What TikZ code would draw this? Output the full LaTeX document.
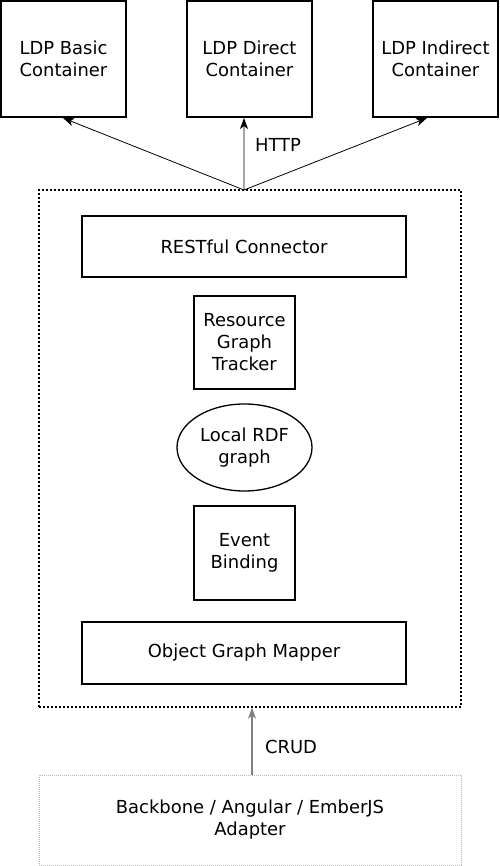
\documentclass[tikz,border=0pt]{standalone}
\usepackage{fontspec}
\setmainfont{DejaVu Sans}
\usetikzlibrary{arrows.meta,shapes.geometric}
\begin{document}
\begin{tikzpicture}[x=1bp,y=1bp,
        font=\fontsize{18}{22}\selectfont,
        box/.style={draw,line width=2bp,inner sep=0pt,align=center},
        thinbox/.style={draw,line width=1.3bp,inner sep=0pt,align=center},
        link/.style={-{Stealth[length=11bp,width=8bp,inset=3bp]},line width=0.8bp}]
    \useasboundingbox (0,0) rectangle (500,866);

    % LDP containers
    \foreach \name/\x/\kind in {basic/63.5/Basic, direct/249.5/Direct, indirect/435.5/Indirect}
        {
            \node[box, minimum width=125bp, minimum height=116bp] (\name) at (\x, 807){LDP \kind\\Container};
        }

    % client library
    \node[draw, dash pattern=on 2bp off 2bp, line width=1.3bp, minimum width=422bp, minimum height=517bp] (lib) at (250, 417.5){};
    \node[box, minimum width=324bp, minimum height=61bp] (rest) at (244, 619.5){RESTful Connector};
    \node[thinbox, minimum width=101bp, minimum height=93bp] (tracker) at (244.5, 523.5){Resource\\Graph\\Tracker};
    \node[thinbox, ellipse, minimum width=135bp, minimum height=87bp] (rdf) at (244.5, 418.5){Local RDF\\graph};
    \node[thinbox, minimum width=101bp, minimum height=94bp] (event) at (244.5, 313){Event\\Binding};
    \node[box, minimum width=324bp, minimum height=62bp] (mapper) at (244, 213){Object Graph Mapper};

    % framework adapter
    \node[draw=gray!55, dash pattern=on 1bp off 1bp, line width=0.8bp, align=center, minimum width=422bp, minimum height=90bp] (adapter) at (250, 46){Backbone / Angular / EmberJS\\Adapter};

    \coordinate (hub) at (244, 676);
    \foreach \name/\dx in {basic/-0.5, direct/-5.5, indirect/-8.5}
        {
            \draw[link] (hub) -- ([xshift=\dx bp]\name.south);
        }
    \node (http) at (278, 721){HTTP};

    \coordinate (crud) at (252, 91);
    \draw[link, draw=gray, line width=1.3bp] (crud) -- (crud |- lib.south);
    \node (crudlabel) at (291, 119){CRUD};
\end{tikzpicture}
\end{document}
